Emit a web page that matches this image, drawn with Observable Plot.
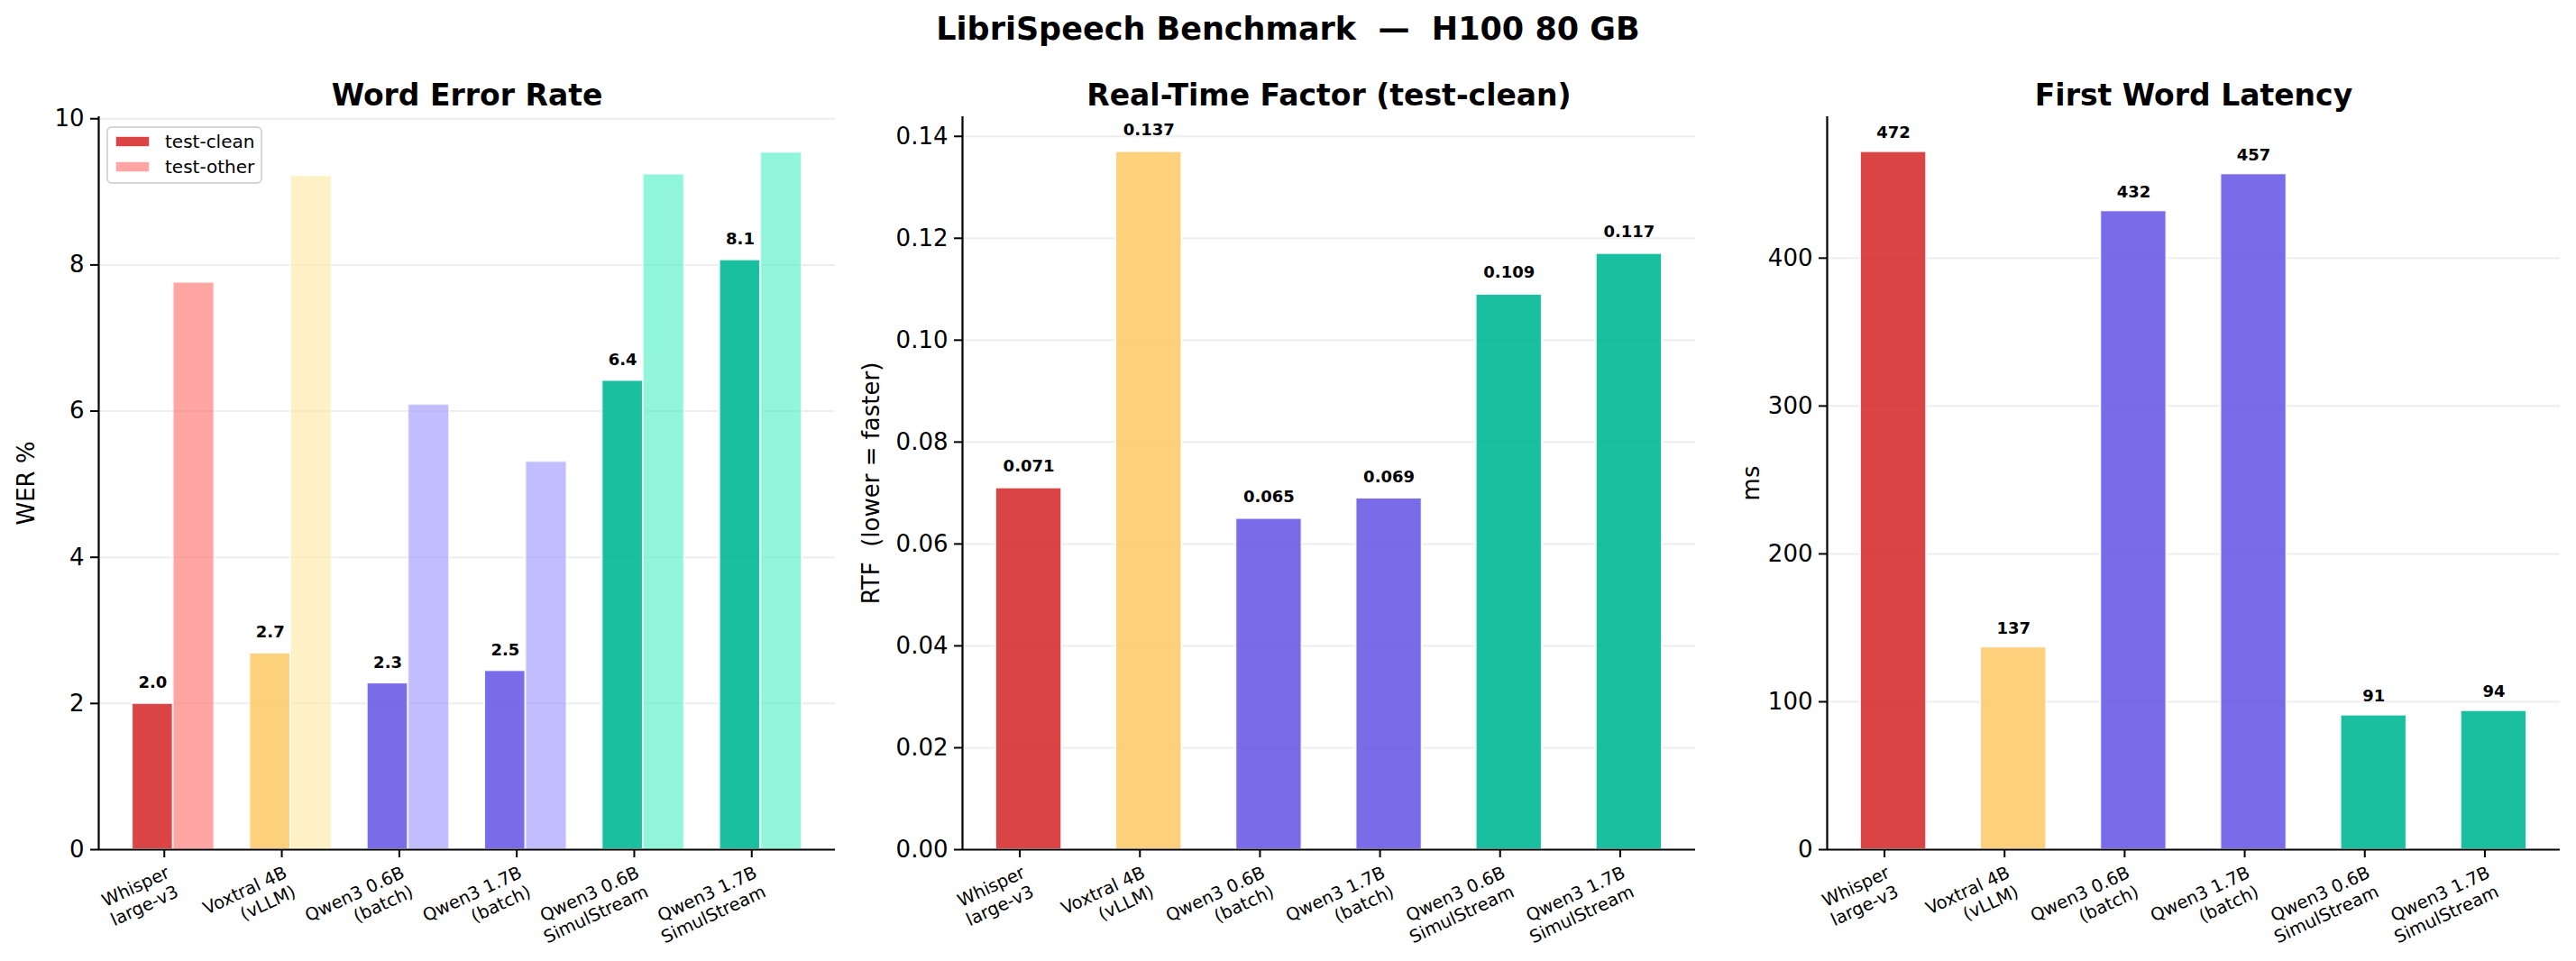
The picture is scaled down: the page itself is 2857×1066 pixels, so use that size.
<!DOCTYPE html>
<html><head><meta charset="utf-8">
<script src="https://cdn.jsdelivr.net/npm/d3@7"></script>
<script src="https://cdn.jsdelivr.net/npm/@observablehq/plot@0.6"></script>
<style>
html,body{margin:0;padding:0;background:#fff;}
#root{position:relative;width:2857px;height:1066px;overflow:hidden;font-family:"DejaVu Sans",sans-serif;color:#000;}
.abs{position:absolute;}
#suptitle{left:0;width:2857px;top:15px;text-align:center;font-size:35px;line-height:35px;font-weight:bold;white-space:pre;}
#legend{left:118px;top:140px;width:169px;height:60px;border:2px solid #d6d6d6;border-radius:6px;background:rgba(255,255,255,0.8);}
.lg-patch{position:absolute;left:8px;width:38px;height:12px;box-sizing:border-box;border:1px solid rgba(255,255,255,0.8);}
.lg-text{position:absolute;left:63px;font-size:20px;line-height:20px;white-space:nowrap;}
</style></head>
<body><div id="root"></div>
<script>
// ---- data ----
const models = ["Whisper\nlarge-v3", "Voxtral 4B\n(vLLM)", "Qwen3 0.6B\n(batch)", "Qwen3 1.7B\n(batch)", "Qwen3 0.6B\nSimulStream", "Qwen3 1.7B\nSimulStream"];
const werClean = [2.0, 2.69, 2.28, 2.45, 6.42, 8.07];
const werOther = [7.76, 9.22, 6.09, 5.31, 9.24, 9.54];
const rtf = [0.071, 0.137, 0.065, 0.069, 0.109, 0.117];
const fwl = [472, 137, 432, 457, 91, 94];
const mainColors = ["#d63031", "#fdcb6e", "#6c5ce7", "#6c5ce7", "#00b894", "#00b894"];
const lightColors = ["#ff7675", "#ffeaa7", "#a29bfe", "#a29bfe", "#55efc4", "#55efc4"];
const werTicks = [0, 2, 4, 6, 8, 10];
const rtfTicks = [0, 0.02, 0.04, 0.06, 0.08, 0.10, 0.12, 0.14];
const fwlTicks = [0, 100, 200, 300, 400];
const seriesNames = ["test-clean", "test-other"];

const idx = models.map((_, i) => i);
const FONT = "DejaVu Sans";
const H = 1066, MT = 129, MB = 124;

function basePlot({width, marginLeft, marginRight, xDomain, yMax, ticks, tickFormat, title, ylabel, ylabelDx, marks}) {
  return Plot.plot({
    width, height: H, marginLeft, marginRight, marginTop: MT, marginBottom: MB,
    x: {domain: xDomain},
    y: {domain: [0, yMax]},
    color: {type: "identity"},
    style: {fontFamily: FONT, fontSize: "26px", color: "#000", background: "transparent", overflow: "visible"},
    marks: [
      Plot.gridY(ticks.filter(t => t > 0), {stroke: "#b0b0b0", strokeOpacity: 0.22, strokeWidth: 2}),
      ...marks,
      Plot.ruleX([xDomain[0]], {stroke: "#000", strokeWidth: 2.2}),
      Plot.ruleY([0], {stroke: "#000", strokeWidth: 2.2}),
      Plot.axisY({ticks, tickFormat, tickSize: 9, tickPadding: 7, strokeWidth: 2, fontSize: 26, label: null}),
      Plot.axisX({ticks: idx, tickFormat: i => models[i], tickSize: 9, tickPadding: 6, tickRotate: -25,
        textAnchor: "end", lineAnchor: "top", lineHeight: 1.2, fontSize: 19.5, strokeWidth: 2, label: null, dx: -10}),
      Plot.text([ylabel], {frameAnchor: "left", rotate: -90, dx: ylabelDx, fontSize: 26, textAnchor: "middle"}),
      Plot.text([title], {frameAnchor: "top", dy: -13, lineAnchor: "bottom", fontSize: 33, fontWeight: "bold"})
    ]
  });
}

const root = document.getElementById("root");
function place(el, left) { el.style.position = "absolute"; el.style.left = left + "px"; el.style.top = "0px"; root.appendChild(el); }

// Panel 1: WER grouped bars
const wW = 0.35;
const p1 = basePlot({
  width: 952, marginLeft: 109, marginRight: 26, xDomain: [-0.635, 5.635], yMax: 10.0275,
  ticks: werTicks, tickFormat: d => String(d), title: "Word Error Rate", ylabel: "WER %", ylabelDx: -80,
  marks: [
    Plot.rect(idx, {x1: i => i - wW, x2: i => i, y1: 0, y2: i => werClean[i], fill: i => mainColors[i], fillOpacity: 0.9, stroke: "white", strokeOpacity: 0.9, strokeWidth: 2}),
    Plot.rect(idx, {x1: i => i, x2: i => i + wW, y1: 0, y2: i => werOther[i], fill: i => lightColors[i], fillOpacity: 0.65, stroke: "white", strokeOpacity: 0.65, strokeWidth: 2}),
    Plot.text(idx, {x: i => i - wW / 2, y: i => werClean[i], text: i => werClean[i].toFixed(1), dy: -17, lineAnchor: "bottom", fontSize: 18, fontWeight: "bold"})
  ]
});
place(p1, 0);

// Panel 2: RTF
const bW = 0.55;
const p2 = basePlot({
  width: 952, marginLeft: 115, marginRight: 24, xDomain: [-0.5525, 5.5525], yMax: 0.14385,
  ticks: rtfTicks, tickFormat: d3.format(".2f"), title: "Real-Time Factor (test-clean)", ylabel: "RTF  (lower = faster)", ylabelDx: -101,
  marks: [
    Plot.rect(idx, {x1: i => i - bW / 2, x2: i => i + bW / 2, y1: 0, y2: i => rtf[i], fill: i => mainColors[i], fillOpacity: 0.9, stroke: "white", strokeOpacity: 0.9, strokeWidth: 2}),
    Plot.text(idx, {x: i => i, y: i => rtf[i], text: i => rtf[i].toFixed(3), dy: -18, lineAnchor: "bottom", fontSize: 18, fontWeight: "bold"})
  ]
});
place(p2, 952);

// Panel 3: First word latency
const p3 = basePlot({
  width: 953, marginLeft: 122, marginRight: 18, xDomain: [-0.5525, 5.5525], yMax: 495.6,
  ticks: fwlTicks, tickFormat: d => String(d), title: "First Word Latency", ylabel: "ms", ylabelDx: -84,
  marks: [
    Plot.rect(idx, {x1: i => i - bW / 2, x2: i => i + bW / 2, y1: 0, y2: i => fwl[i], fill: i => mainColors[i], fillOpacity: 0.9, stroke: "white", strokeOpacity: 0.9, strokeWidth: 2}),
    Plot.text(idx, {x: i => i, y: i => fwl[i], text: i => String(fwl[i]), dy: -15, lineAnchor: "bottom", fontSize: 18, fontWeight: "bold"})
  ]
});
place(p3, 1904);

// Suptitle
const st = document.createElement("div");
st.id = "suptitle"; st.className = "abs";
st.textContent = "LibriSpeech Benchmark  \u2014  H100 80 GB";
root.appendChild(st);

// Legend for panel 1
const lg = document.createElement("div");
lg.id = "legend"; lg.className = "abs";
const legendItems = [
  {name: seriesNames[0], color: mainColors[0], op: 0.9},
  {name: seriesNames[1], color: lightColors[0], op: 0.65}
];
legendItems.forEach((it, k) => {
  const p = document.createElement("div");
  p.className = "lg-patch";
  p.style.top = (9 + k * 28) + "px";
  const c = d3.color(it.color); c.opacity = it.op;
  p.style.background = c.formatRgb();
  lg.appendChild(p);
  const t = document.createElement("div");
  t.className = "lg-text";
  t.style.top = (5 + k * 28) + "px";
  t.textContent = it.name;
  lg.appendChild(t);
});
root.appendChild(lg);
</script>
</body></html>
